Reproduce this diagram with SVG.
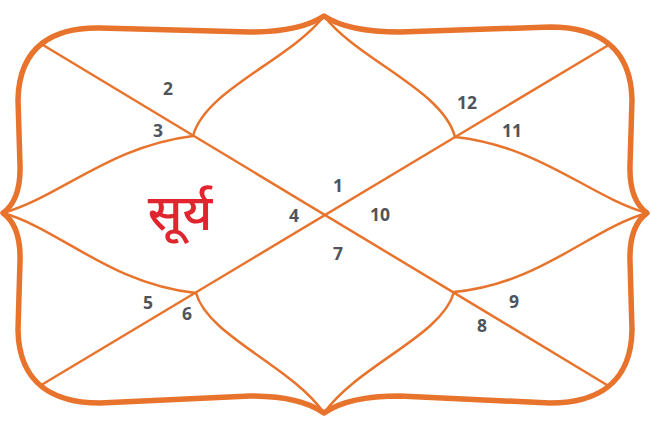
<svg xmlns="http://www.w3.org/2000/svg" width="650" height="433" viewBox="0 0 650 433">
<style>
.frame{fill:none;stroke:#E8732C;stroke-width:5.5;stroke-linejoin:round;stroke-linecap:round}
.ln{fill:none;stroke:#E8732C;stroke-width:2.5;stroke-linecap:round}
.num{font-family:"Open Sans","Liberation Sans",sans-serif;font-weight:700;font-size:17.5px;fill:#4F545A;text-anchor:middle}
.lbl{font-family:"Noto Sans Devanagari","Noto Sans","Liberation Sans",sans-serif;font-size:50px;font-weight:500;fill:#E0252F;text-anchor:middle}
</style>
<rect width="650" height="433" fill="#ffffff"/>
<g id="frame">
<path class="frame" d="M324 16 Q300 32 250 32 L100 28 C55 27 19 45 18 100 L20 165 Q21 200 3 213 Q21 226 20 261 L18 330 C19 385 55 403 100 403 L250 396 Q300 396 324 413 Q348 396 400 396 L550 403 C595 403 631 385 632 330 L630 261 Q629 226 647 213 Q629 200 630 165 L632 100 C631 45 595 27 550 27 L400 32 Q348 32 324 16 Z"/>
</g>
<g id="connectors">
<line class="ln" x1="43" y1="45" x2="607" y2="385"/>
<line class="ln" x1="607" y1="46" x2="43" y2="384"/>
<path class="ln" d="M193 136 C205 90 290 60 324 16"/>
<path class="ln" d="M455 137 C443 90 358 60 324 16"/>
<path class="ln" d="M3 213 C60 197 110 146 193 136"/>
<path class="ln" d="M3 213 C60 229 110 284 196 293"/>
<path class="ln" d="M647 213 C590 197 540 146 455 137"/>
<path class="ln" d="M647 213 C590 229 540 284 454 292"/>
<path class="ln" d="M196 293 C208 336 290 365 324 413"/>
<path class="ln" d="M454 292 C442 336 358 365 324 413"/>
</g>
<g id="labels">
<text class="num" x="168" y="95">2</text>
<text class="num" x="158" y="137">3</text>
<text class="num" x="467" y="109">12</text>
<text class="num" x="512" y="137">11</text>
<text class="num" x="338" y="192">1</text>
<text class="num" x="294" y="222">4</text>
<text class="num" x="380" y="221">10</text>
<text class="num" x="338" y="260">7</text>
<text class="num" x="148" y="309">5</text>
<text class="num" x="187" y="320">6</text>
<text class="num" x="482" y="332">8</text>
<text class="num" x="514" y="308">9</text>
</g>
<g id="surya">
<text class="lbl" x="180" y="230">सूर्य</text>
</g>
</svg>
